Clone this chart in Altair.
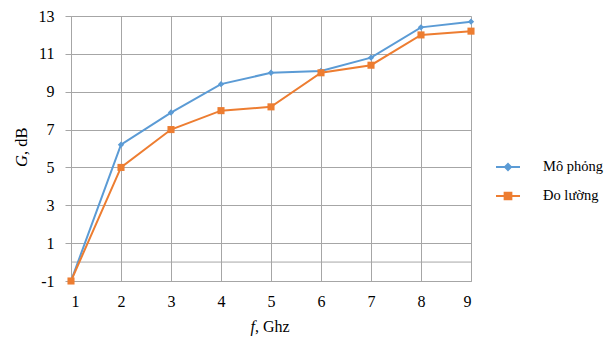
import altair as alt
import pandas as pd

# ---- data ----
freq = [1, 2, 3, 4, 5, 6, 7, 8, 9]
sim = [-1, 6.2, 7.9, 9.4, 10.0, 10.1, 10.8, 12.4, 12.7]
meas = [-1, 5.0, 7.0, 8.0, 8.2, 10.0, 10.4, 12.0, 12.2]
series_names = ["Mô phỏng", "Đo lường"]
series_colors = ["#5B9BD5", "#ED7D31"]
y_ticks = [-1, 1, 3, 5, 7, 9, 11, 13]
x_ticks = [1, 2, 3, 4, 5, 6, 7, 8, 9]
extra_grid = [0]

df = pd.DataFrame(
    {
        "f": freq * 2,
        "G": sim + meas,
        "series": [series_names[0]] * len(freq) + [series_names[1]] * len(freq),
    }
)

FONT = "Liberation Serif"
GRID = "#A6A6A6"

xscale = alt.Scale(domain=[1, 9], nice=False, zero=False)
yscale = alt.Scale(domain=[-1, 13], nice=False, zero=False)
cscale = alt.Scale(domain=series_names, range=series_colors)

x_axis = alt.Axis(
    values=x_ticks,
    title=None,
    grid=True,
    gridColor=GRID,
    domainColor=GRID,
    ticks=False,
    labelPadding=12,
    labelFont=FONT,
    labelFontSize=16,
    labelColor="#000000",
    labelOverlap=False,
    labelExpr="'' + datum.value",
)
y_axis = alt.Axis(
    values=y_ticks,
    title=None,
    grid=True,
    gridColor=GRID,
    domainColor=GRID,
    tickColor=GRID,
    tickSize=6,
    labelPadding=11,
    labelFont=FONT,
    labelFontSize=16,
    labelColor="#000000",
    labelOverlap=False,
    labelExpr="'' + datum.value",
)

legend_paths = [
    "M-1,0L1,0M-0.25,0L0,-0.25L0.25,0L0,0.25Z",
    "M-1,0L1,0M-0.28,-0.28L0.28,-0.28L0.28,0.28L-0.28,0.28Z",
]

legend = alt.Legend(
    title=None,
    orient="none",
    legendX=424,
    legendY=138,
    symbolSize=576,
    symbolStrokeWidth=2,
    labelFont=FONT,
    labelFontSize=14.5,
    labelColor="#000000",
    labelOffset=22,
    rowPadding=9,
    padding=0,
)

X = alt.X("f:Q", scale=xscale, axis=x_axis)
Y = alt.Y("G:Q", scale=yscale, axis=y_axis)

zero_rule = (
    alt.Chart(pd.DataFrame({"G": extra_grid}))
    .mark_rule(color=GRID, strokeWidth=1)
    .encode(y=Y)
)

layers = [zero_rule]
markshapes = ["diamond", "square"]
marksizes = [40, 50]
for i, name in enumerate(series_names):
    sub = alt.Chart(df).transform_filter(alt.datum.series == name)
    ln = sub.mark_line(strokeWidth=2, color=series_colors[i]).encode(x=X, y=Y)
    pt = sub.mark_point(
        filled=True, opacity=1, size=marksizes[i], shape=markshapes[i], color=series_colors[i]
    ).encode(x=X, y=Y)
    layers += [ln, pt]

legend_layer = (
    alt.Chart(df)
    .transform_filter("datum.f > 1000")
    .mark_point(opacity=1, strokeWidth=2)
    .encode(
        x=X,
        y=Y,
        fill=alt.Fill("series:N", scale=cscale, legend=legend),
        stroke=alt.Stroke("series:N", scale=cscale, legend=legend),
        shape=alt.Shape(
            "series:N", scale=alt.Scale(domain=series_names, range=legend_paths), legend=legend
        ),
    )
)
layers.append(legend_layer)

ytitle_g = (
    alt.Chart(pd.DataFrame({"t": ["G"]}))
    .mark_text(font=FONT, fontSize=16.5, fontStyle="italic", angle=270, align="right", baseline="middle", color="#000000")
    .encode(text="t:N", x=alt.value(-49), y=alt.value(139))
)
ytitle_rest = (
    alt.Chart(pd.DataFrame({"t": [", dB"]}))
    .mark_text(font=FONT, fontSize=16.5, angle=270, align="left", baseline="middle", color="#000000")
    .encode(text="t:N", x=alt.value(-49), y=alt.value(139))
)
xtitle_f = (
    alt.Chart(pd.DataFrame({"t": ["f"]}))
    .mark_text(font=FONT, fontSize=16, fontStyle="italic", align="right", baseline="middle", color="#000000")
    .encode(text="t:N", x=alt.value(184), y=alt.value(311))
)
xtitle_rest = (
    alt.Chart(pd.DataFrame({"t": [", Ghz"]}))
    .mark_text(font=FONT, fontSize=16, align="left", baseline="middle", color="#000000")
    .encode(text="t:N", x=alt.value(184), y=alt.value(311))
)
layers += [ytitle_g, ytitle_rest, xtitle_f, xtitle_rest]

chart = (
    alt.layer(*layers)
    .properties(
        width=400,
        height=265,
        autosize=alt.AutoSizeParams(type="none"),
        padding={"left": 63, "top": 8, "right": 137, "bottom": 56},
    )
    .configure_view(stroke=None)
    .configure_axis(labelFont=FONT, labelFontSize=16, labelColor="#000000", labelOverlap=False)
    .configure_legend(labelFont=FONT, labelFontSize=14.5, labelColor="#000000")
    .configure(background="#ffffff", font=FONT)
)

chart.save("out.html", embed_options={"renderer": "svg", "actions": False})
